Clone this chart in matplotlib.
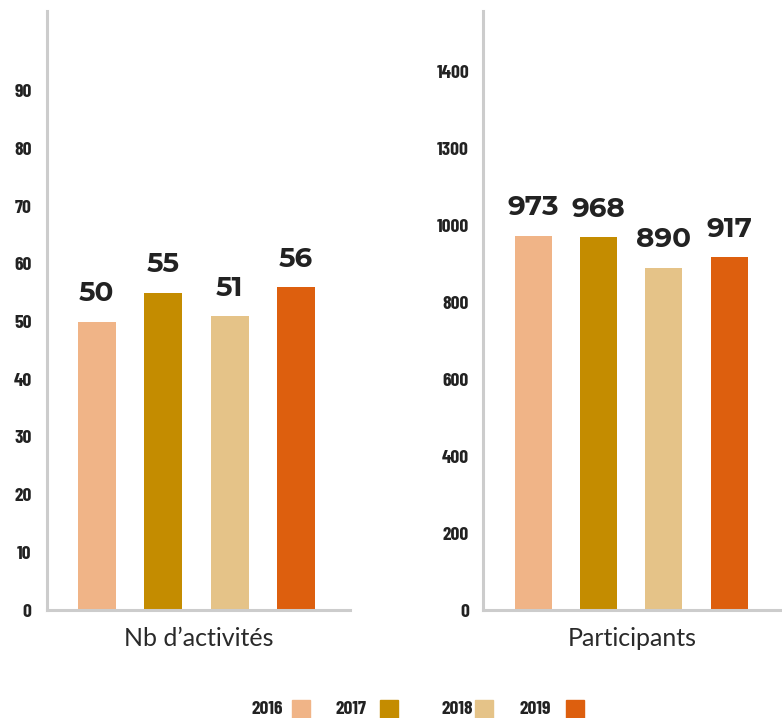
import matplotlib.pyplot as plt
from matplotlib.patches import Rectangle

years = ["2016", "2017", "2018", "2019"]
colors = ["#F0B487", "#C48C00", "#E5C388", "#DD5F0E"]

activites = [50, 55, 51, 56]
participants = [973, 968, 890, 917]

act_ticks = [0, 10, 20, 30, 40, 50, 60, 70, 80, 90]
part_ticks = [0, 200, 400, 600, 800, 1000, 1200, 1400]
part_tick_labels = ["0", "200", "400", "600", "800", "1000", "1300", "1400"]

tick_font = ["Barlow Condensed", "DejaVu Sans"]
value_font = ["Montserrat Alternates", "DejaVu Sans"]
label_font = ["Lato", "DejaVu Sans"]

fig = plt.figure(figsize=(7.82, 7.18), dpi=100)
ax1 = fig.add_axes([0.0601, 0.1504, 0.3875, 0.834])
ax2 = fig.add_axes([0.6176, 0.1504, 0.3824, 0.834])


def draw(ax, values, ticks, labels, ymax, title, pad, xlim):
    x = list(range(len(values)))
    ax.bar(x, values, width=0.57, color=colors)
    for xi, v in zip(x, values):
        ax.annotate(str(v), (xi, v), xytext=(0, 11), textcoords="offset points",
                    ha="center", va="bottom", fontsize=20, fontweight="bold",
                    family=value_font, color="#222222")
    ax.set_xlim(*xlim)
    ax.set_ylim(0, ymax)
    ax.set_yticks(ticks)
    ax.set_yticklabels(labels, family=tick_font, fontweight="bold",
                       fontsize=14, color="#222222")
    ax.tick_params(axis="y", length=0, pad=pad)
    ax.set_xticks([])
    for s in ["top", "right"]:
        ax.spines[s].set_visible(False)
    for s in ["left", "bottom"]:
        ax.spines[s].set_color("#cccccc")
        ax.spines[s].set_linewidth(2.2)
    ax.set_xlabel(title, fontsize=18, family=label_font, fontweight="normal",
                  color="#2a2a2a", labelpad=12)


draw(ax1, activites, act_ticks, [str(t) for t in act_ticks], 103.8,
     "Nb d\u2019activités", 11, (-0.75, 3.81))
draw(ax2, participants, part_ticks, part_tick_labels, 1556,
     "Participants", 10, (-0.77, 3.81))

# legend: year text followed by a colour square
text_right = [283, 367, 473, 551]
square_left = [292, 380, 475, 566]
W, H = 782, 718
for yr, c, tr, sl in zip(years, colors, text_right, square_left):
    fig.text(tr / W, 1 - 709 / H, yr, ha="right", va="center",
             family=tick_font, fontweight="bold", fontsize=14, color="#222222")
    fig.patches.append(Rectangle((sl / W, 0), 18 / W, 18 / H,
                                 transform=fig.transFigure, color=c))

fig.savefig("out.png", dpi=100)
